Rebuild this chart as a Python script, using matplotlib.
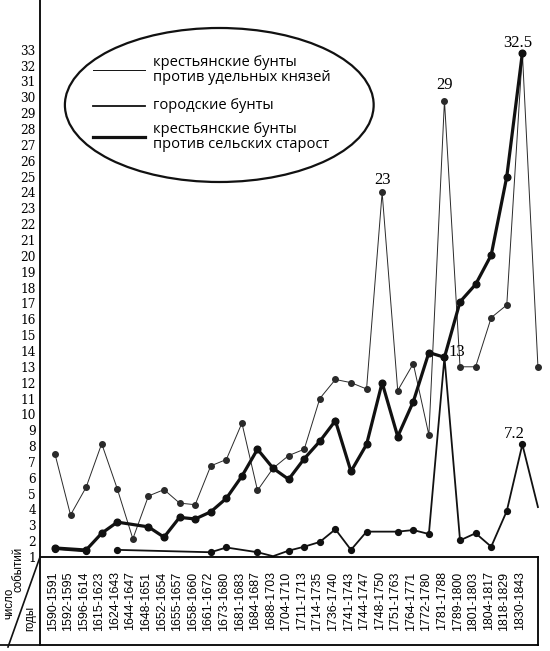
import numpy as np
import matplotlib
matplotlib.use("Agg")
import matplotlib.pyplot as plt
from matplotlib.patches import Ellipse
from matplotlib.lines import Line2D

nan = np.nan

# годы (подписи по оси X)
periods = ['1590-1591', '1592-1595', '1596-1614', '1615-1623', '1624-1643',
           '1644-1647', '1648-1651', '1652-1654', '1655-1657', '1658-1660',
           '1661-1672', '1673-1680', '1681-1683', '1684-1687', '1688-1703',
           '1704-1710', '1711-1713', '1714-1735', '1736-1740', '1741-1743',
           '1744-1747', '1748-1750', '1751-1763', '1764-1771', '1772-1780',
           '1781-1788', '1789-1800', '1801-1803', '1804-1817', '1818-1829',
           '1830-1843']

# крестьянские бунты против удельных князей (тонкая линия)
princes = [7.5, 3.65, 5.4, 8.15, 5.3, 2.15, 4.85, 5.25, 4.4, 4.3,
           6.75, 7.15, 9.45, 5.2, 6.6, 7.4, 7.8, 11.0, 12.2, 12.0,
           11.6, 24.0, 11.5, 13.2, 8.7, 29.8, 13.0, 13.0, 16.1, 16.9,
           32.8, 13.0]

# городские бунты (средняя линия), nan = нет точки
towns = [1.5, nan, 1.35, nan, 1.45, nan, nan, nan, nan, nan,
         1.3, 1.6, nan, 1.3, 1.05, 1.4, 1.65, 1.95, 2.75, 1.45,
         2.6, nan, 2.6, 2.7, 2.45, 13.6, 2.05, 2.5, 1.65, 3.9,
         8.1, 4.15]
towns_break = 3          # линия прерывается на этом индексе
towns_nodot = [14, 31]

# крестьянские бунты против сельских старост (толстая линия)
elders = [1.57, nan, 1.44, 2.5, 3.2, nan, 2.9, 2.25, 3.5, 3.4,
          3.85, 4.7, 6.1, 7.8, 6.6, 5.9, 7.2, 8.3, 9.6, 6.4,
          8.1, 12.0, 8.6, 10.8, 13.9, 13.6, 17.1, 18.2, 20.05, 25.0,
          32.8, nan]

# подписи у пиков: (ряд, индекс, текст)
peak_labels = [('princes', 21, '23'), ('princes', 25, '29'),
               ('princes', 30, '32.5'), ('towns', 25, '13'), ('towns', 30, '7.2')]
# сдвиг подписи от точки, в пунктах
label_offsets = {'23': (0, 9), '29': (0, 11), '32.5': (-3, 7),
                 '13': (9, 4), '7.2': (-6, 7.5)}

series = {'princes': princes, 'towns': towns, 'elders': elders}


def draw(ax, vals, lw, ms, color, nodot=(), breaks=()):
    y = np.array(vals, dtype=float)
    x = np.arange(len(y))
    cuts = [0] + list(breaks) + [len(y)]
    for a, b in zip(cuts[:-1], cuts[1:]):
        xs, ys = x[a:b], y[a:b]
        ok = ~np.isnan(ys)
        ax.plot(xs[ok], ys[ok], color=color, lw=lw, clip_on=False,
                solid_joinstyle='miter', zorder=3)
    dot = ~np.isnan(y)
    dot[list(nodot)] = False
    ax.plot(x[dot], y[dot], 'o', color=color, ms=ms, clip_on=False, zorder=4)


W, H = 550, 651
fig = plt.figure(figsize=(W / 100, H / 100), dpi=100)
left, right, axis_y, box_bottom = 40, 538, 557, 645

ax = fig.add_axes([left / W, 1 - axis_y / H, (right - left) / W, axis_y / H])
x0 = -0.96
x1 = x0 + (right - left) / 15.58
ax.set_xlim(x0, x1)
ax.set_ylim(1, 1 + axis_y / 15.85)

draw(ax, princes, 0.7, 4.0, '#2a2a2a')
draw(ax, towns, 1.3, 4.2, '#111111', nodot=towns_nodot, breaks=[towns_break])
draw(ax, elders, 2.3, 4.8, '#111111')

for name, i, txt in peak_labels:
    ax.annotate(txt, (i, series[name][i]), xytext=label_offsets[txt],
                textcoords='offset points', ha='center', va='center',
                fontsize=12, family='Liberation Serif')

for s in ['top', 'right', 'bottom']:
    ax.spines[s].set_visible(False)
ax.spines['left'].set_linewidth(1.3)
ax.set_xticks([])
ax.set_yticks(range(1, 34))
ax.set_yticklabels([str(v) for v in range(1, 34)], family='DejaVu Serif', fontsize=8.7)
ax.tick_params(axis='y', length=0, pad=3)

# легенда в овале
ax.add_patch(Ellipse((0.36, 0.8115), 0.62, 0.2765, transform=ax.transAxes,
                     fill=False, lw=1.6, color='#111111'))
leg_items = [
    ('крестьянские бунты\nпротив удельных князей', 0.7, 0.874),
    ('городские бунты', 1.3, 0.810),
    ('крестьянские бунты\nпротив сельских старост', 2.3, 0.754),
]
for txt, lw, yy in leg_items:
    ax.plot([0.106, 0.21], [yy, yy], transform=ax.transAxes, color='#111111', lw=lw)
    ax.text(0.226, yy, txt, transform=ax.transAxes, va='center', ha='left',
            fontsize=10.5, family='Open Sans', linespacing=1.0)

# таблица с годами
tab = fig.add_axes([left / W, 1 - box_bottom / H, (right - left) / W, (box_bottom - axis_y) / H])
tab.set_xlim(x0, x1)
tab.set_ylim(0, 1)
tab.set_xticks([])
tab.set_yticks([])
for s in tab.spines.values():
    s.set_linewidth(1.3)
for i, p in enumerate(periods):
    tab.text(i - 0.15, 0.5, p, rotation=90, ha='center', va='center',
             fontsize=8.9, family='Liberation Sans')

fig.add_artist(Line2D([left / W, 8 / W], [1 - axis_y / H, 1 - 647 / H],
                      transform=fig.transFigure, color='#111111', lw=1.2))
fig.add_artist(Line2D([0, left / W], [1 - box_bottom / H, 1 - box_bottom / H],
                      transform=fig.transFigure, color='#111111', lw=1.3))
fig.text(30 / W, 1 - 618 / H, 'годы', rotation=90, ha='center', va='center',
         fontsize=8.3, family='Liberation Sans')
fig.text(9 / W, 1 - 603 / H, 'число', rotation=90, ha='center', va='center',
         fontsize=8.3, family='Liberation Sans')
fig.text(18 / W, 1 - 569 / H, 'событий', rotation=90, ha='center', va='center',
         fontsize=8.3, family='Liberation Sans')

fig.savefig('out.png', dpi=100, facecolor='white')
